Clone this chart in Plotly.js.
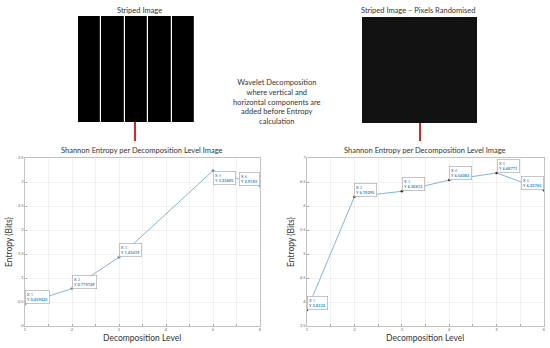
<!DOCTYPE html>
<html>
<head>
<meta charset="utf-8">
<script src="https://cdn.plot.ly/plotly-3.0.1.min.js"></script>
<style>html,body{margin:0;padding:0;background:#fff;}#chart{width:550px;height:348px;}</style>
</head>
<body>
<div id="chart"></div>
<script>
// ---- data ----
var levels = [1, 2, 3, 4, 5, 6];
var entropyStriped = [0.459425, 0.779749, 1.43419, 2.33, 3.23605, 2.9183];
var entropyRandom = [3.8332, 6.19295, 6.30613, 6.54083, 6.68771, 6.32765];
var tipLevelsStriped = [1, 2, 3, 5, 6];
var tipLevelsRandom = [1, 2, 3, 4, 5, 6];
var stripeColumns = [0, 1, 2, 3, 4];
var stripeValues = [[0, 0, 0, 0, 0]];
var randomValues = [[0]];
var yTicksStriped = [0, 0.5, 1, 1.5, 2, 2.5, 3, 3.5];
var yTicksRandom = [3.5, 4, 4.5, 5, 5.5, 6, 6.5, 7];
var xTicks = [1, 1.5, 2, 2.5, 3, 3.5, 4, 4.5, 5, 5.5, 6];

var chartTitle = 'Shannon Entropy per Decomposition Level Image';
var xTitle = 'Decomposition Level';
var yTitle = 'Entropy (Bits)';
var imgTitleLeft = 'Striped Image';
var imgTitleRight = 'Striped Image \u2013 Pixels Randomised';
var middleText = 'Wavelet Decomposition<br>where vertical and<br>horizontal components are<br>added before Entropy<br>calculation';

// ---- helpers ----
var W = 550, H = 348;
function px(x) { return x / W; }
function py(y) { return 1 - y / H; }
var FONT = 'Lato, "Open Sans", sans-serif';
var lineColor = '#7fb6d8';
var tipBlue = '#2a8fdc';

function fmtTick(v) { return String(v); }

function lineAxisX(dom, anchor) {
  return {
    domain: dom, anchor: anchor, range: [1, 6],
    tickmode: 'array', tickvals: xTicks,
    ticktext: xTicks.map(function (v) { return Number.isInteger(v) ? String(v) : ''; }),
    showgrid: true, gridcolor: '#e8e8e8', gridwidth: 0.6,
    zeroline: false, showline: true, linecolor: '#9a9a9a', linewidth: 0.6, mirror: true,
    ticks: 'inside', ticklen: 2, tickcolor: '#777', tickwidth: 0.6,
    tickfont: { size: 4, color: '#666', family: FONT }, ticklabelstandoff: 0
  };
}
function lineAxisY(dom, anchor, rng, vals) {
  return {
    domain: dom, anchor: anchor, range: rng,
    tickmode: 'array', tickvals: vals, ticktext: vals.map(fmtTick),
    showgrid: true, gridcolor: '#e8e8e8', gridwidth: 0.6,
    zeroline: false, showline: true, linecolor: '#9a9a9a', linewidth: 0.6, mirror: true,
    ticks: 'inside', ticklen: 2, tickcolor: '#777', tickwidth: 0.6,
    tickfont: { size: 4, color: '#666', family: FONT }
  };
}
function hiddenAxis(dom, anchor) {
  return { domain: dom, anchor: anchor, visible: false, showgrid: false, zeroline: false, fixedrange: true };
}

var yDomLine = [py(326), py(158)];

var traces = [
  {
    type: 'scatter', mode: 'lines+markers', x: levels, y: entropyStriped,
    xaxis: 'x', yaxis: 'y',
    line: { color: lineColor, width: 1 },
    marker: { color: '#333', size: levels.map(function (l) { return tipLevelsStriped.indexOf(l) >= 0 ? 2.5 : 0; }) },
    hoverinfo: 'skip', showlegend: false
  },
  {
    type: 'scatter', mode: 'lines+markers', x: levels, y: entropyRandom,
    xaxis: 'x2', yaxis: 'y2',
    line: { color: lineColor, width: 1 },
    marker: { color: '#333', size: 2.5 },
    hoverinfo: 'skip', showlegend: false
  },
  {
    type: 'heatmap', z: stripeValues, x: stripeColumns, xaxis: 'x3', yaxis: 'y3',
    colorscale: [[0, '#000000'], [1, '#000000']], showscale: false, xgap: 1.2, hoverinfo: 'skip'
  },
  {
    type: 'heatmap', z: randomValues, xaxis: 'x4', yaxis: 'y4',
    colorscale: [[0, '#121212'], [1, '#121212']], showscale: false, hoverinfo: 'skip'
  }
];

function tipText(x, y) {
  return '<span style="color:#444">X</span> <span style="color:' + tipBlue + '">' + x + '</span><br>' +
         '<span style="color:#444">Y</span> <b><span style="color:' + tipBlue + '">' + y + '</span></b>';
}

var annotations = [];
function addTip(xr, yr, x, y, xa, ya) {
  annotations.push({
    xref: xr, yref: yr, x: x, y: y, xanchor: xa, yanchor: ya, showarrow: false,
    text: tipText(x, y), align: 'left',
    font: { size: 4, family: FONT, color: '#444' },
    bgcolor: 'rgba(255,255,255,0.95)', bordercolor: '#a0a0a0', borderwidth: 0.6, borderpad: 1.5
  });
}
levels.forEach(function (l, i) {
  if (tipLevelsStriped.indexOf(l) < 0) return;
  var xa = 'left', ya = 'bottom';
  if (l === 5) { ya = 'top'; }
  if (l === 6) { xa = 'right'; }
  addTip('x', 'y', l, entropyStriped[i], xa, ya);
});
levels.forEach(function (l, i) {
  if (tipLevelsRandom.indexOf(l) < 0) return;
  var xa = 'left', ya = 'bottom';
  if (l === 6) { xa = 'right'; }
  addTip('x2', 'y2', l, entropyRandom[i], xa, ya);
});

function textAnn(text, x, y, size, extra) {
  var a = {
    xref: 'paper', yref: 'paper', x: px(x), y: py(y), xanchor: 'center', yanchor: 'middle',
    showarrow: false, text: text, font: { size: size, family: FONT, color: '#333' }
  };
  if (extra) { for (var k in extra) a[k] = extra[k]; }
  annotations.push(a);
}
textAnn(imgTitleLeft, 140, 10, 7.5);
textAnn(imgTitleRight, 418, 10, 7.5);
textAnn(middleText, 277, 102, 7.5, { align: 'center' });
textAnn(chartTitle, 142, 150, 7.5);
textAnn(chartTitle, 425, 150, 7.5);
textAnn(xTitle, 142, 338, 8.5);
textAnn(xTitle, 425, 338, 8.5);
textAnn(yTitle, 9, 242, 8.5, { textangle: -90 });
textAnn(yTitle, 291, 242, 8.5, { textangle: -90 });

var shapes = [
  { type: 'line', xref: 'paper', yref: 'paper', x0: px(135), x1: px(135), y0: py(122), y1: py(141),
    line: { color: '#e02424', width: 2 } },
  { type: 'line', xref: 'paper', yref: 'paper', x0: px(420), x1: px(420), y0: py(123), y1: py(141),
    line: { color: '#e02424', width: 2 } }
];

var layout = {
  width: W, height: H,
  margin: { l: 0, r: 0, t: 0, b: 0 },
  paper_bgcolor: '#ffffff', plot_bgcolor: '#ffffff',
  showlegend: false,
  font: { family: FONT, color: '#333' },
  xaxis: lineAxisX([px(25), px(260)], 'y'),
  yaxis: lineAxisY(yDomLine, 'x', [0, 3.5], yTicksStriped),
  xaxis2: lineAxisX([px(307), px(544)], 'y2'),
  yaxis2: lineAxisY(yDomLine, 'x2', [3.5, 7], yTicksRandom),
  xaxis3: hiddenAxis([px(78), px(195)], 'y3'),
  yaxis3: hiddenAxis([py(122), py(16)], 'x3'),
  xaxis4: hiddenAxis([px(362), px(477)], 'y4'),
  yaxis4: hiddenAxis([py(123), py(17)], 'x4'),
  annotations: annotations,
  shapes: shapes
};

Plotly.newPlot('chart', traces, layout, { staticPlot: true, displayModeBar: false });
</script>
</body>
</html>
